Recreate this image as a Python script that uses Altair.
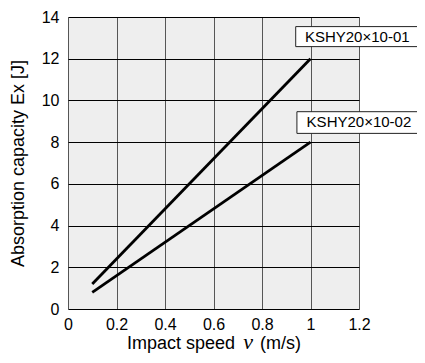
import altair as alt
import pandas as pd

# Data
series = ["KSHY20×10-01", "KSHY20×10-02"]
speed = [0.1, 1.0]
absorb_01 = [1.2, 12.0]
absorb_02 = [0.8, 8.0]
x_ticks = [0, 0.2, 0.4, 0.6, 0.8, 1.0, 1.2]
y_ticks = [0, 2, 4, 6, 8, 10, 12, 14]

lines_df = pd.DataFrame({
    "speed": speed + speed,
    "absorb": absorb_01 + absorb_02,
    "series": [series[0]] * 2 + [series[1]] * 2,
})

# label boxes (data coordinates)
lab_df = pd.DataFrame({
    "series": series,
    "x0": [0.939, 0.944],
    "x1": [1.48, 1.48],
    "y0": [12.58, 8.42],
    "y1": [13.54, 9.46],
    "tx": [0.977, 0.984],
    "ty": [13.04, 8.96],
})

FONT = "Liberation Sans"
W, H = 291, 292

xs = alt.Scale(domain=[0, 1.2], nice=False, zero=False)
ys = alt.Scale(domain=[0, 14], nice=False)

base = alt.Chart(lines_df)

lines = base.mark_line(color="black", strokeWidth=2.8, strokeCap="butt").encode(
    x=alt.X("speed:Q", scale=xs, title=None,
            axis=alt.Axis(values=x_ticks, format="~g", grid=True, gridColor="#555555",
                          gridWidth=1, gridOpacity=1, domain=False, ticks=False,
                          tickSize=0, labelPadding=7, labelFontSize=16, labelFont=FONT,
                          labelColor="black", labelFlush=False)),
    y=alt.Y("absorb:Q", scale=ys,
            title="Absorption capacity Ex [J]",
            axis=alt.Axis(values=y_ticks, grid=True, gridColor="black", gridWidth=1,
                          gridOpacity=1, domain=False, ticks=False, tickSize=0,
                          labelPadding=9, labelFontSize=16, labelFont=FONT,
                          labelColor="black", labelFlush=False,
                          titleFont=FONT, titleFontSize=18, titleFontWeight="normal",
                          titleColor="black", titleX=-50, titleY=146,
                          titleBaseline="middle", titleAngle=-90)),
    detail="series:N",
)

boxes = alt.Chart(lab_df).mark_rect(fill="white", stroke="#222222", strokeWidth=1).encode(
    x=alt.X("x0:Q", scale=xs), x2="x1:Q",
    y=alt.Y("y0:Q", scale=ys), y2="y1:Q",
)

box_text = alt.Chart(lab_df).mark_text(
    align="left", baseline="middle", font=FONT, fontSize=15, color="black"
).encode(
    x=alt.X("tx:Q", scale=xs), y=alt.Y("ty:Q", scale=ys), text="series:N"
)

one = pd.DataFrame({"a": [0]})
TY = 332
t1 = alt.Chart(one).mark_text(align="right", baseline="alphabetic", font=FONT,
                              fontSize=18, color="black").encode(
    x=alt.value(167), y=alt.value(TY), text=alt.value("Impact speed"))
t2 = alt.Chart(one).mark_text(align="center", baseline="alphabetic",
                              font="Liberation Serif", fontStyle="italic",
                              fontSize=22, color="black").encode(
    x=alt.value(180), y=alt.value(TY), text=alt.value("ν"))
t3 = alt.Chart(one).mark_text(align="left", baseline="alphabetic", font=FONT,
                              fontSize=18, color="black").encode(
    x=alt.value(192), y=alt.value(TY), text=alt.value("(m/s)"))

chart = alt.layer(lines, boxes, box_text, t1, t2, t3).properties(
    width=W, height=H,
    autosize=alt.AutoSizeParams(type="none"),
    padding={"left": 60, "top": 9, "right": 58, "bottom": 46},
    background="white",
).configure_view(fill="#eeeeee", stroke=None)

chart.save("out.html", embed_options={"renderer": "svg", "actions": False})
